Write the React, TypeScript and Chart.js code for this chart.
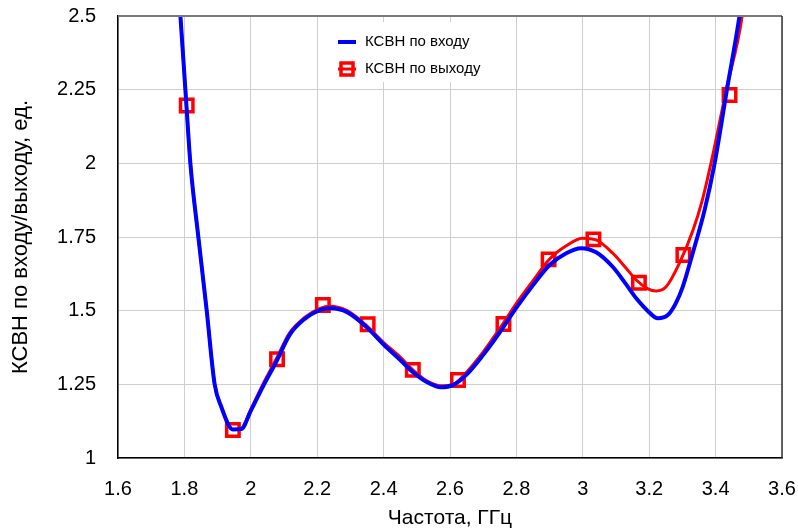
import React, { useEffect, useRef } from "react";
import { Chart, registerables } from "chart.js";

Chart.register(...registerables);

// ---- data ----
const inputFreq = [
  1.775, 1.788, 1.805, 1.818, 1.842, 1.867, 1.891, 1.911, 1.946, 1.971, 2.0, 2.04, 2.077, 2.117,
  2.16, 2.207, 2.24, 2.29, 2.348, 2.4, 2.448, 2.487, 2.53, 2.573, 2.61, 2.649, 2.7, 2.749, 2.8,
  2.849, 2.9, 2.95, 2.995, 3.04, 3.09, 3.13, 3.161, 3.195, 3.226, 3.256, 3.28, 3.301, 3.331,
  3.367, 3.397, 3.434, 3.472, 3.49,
];
const inputVswr = [
  2.7, 2.5, 2.215, 2.0, 1.75, 1.502, 1.251, 1.174, 1.097, 1.098, 1.16, 1.25, 1.327, 1.418,
  1.47, 1.502, 1.508, 1.495, 1.445, 1.385, 1.335, 1.293, 1.258, 1.24, 1.248, 1.282, 1.35, 1.425,
  1.51, 1.585, 1.655, 1.695, 1.712, 1.698, 1.649, 1.59, 1.542, 1.5, 1.474, 1.485, 1.525, 1.581,
  1.695, 1.842, 2.0, 2.249, 2.5, 2.65,
];

const outputFreq = [
  1.775, 1.788, 1.805, 1.818, 1.842, 1.867, 1.891, 1.911, 1.946, 1.971, 2.0, 2.04, 2.077, 2.117,
  2.16, 2.207, 2.24, 2.29, 2.348, 2.4, 2.448, 2.487, 2.53, 2.573, 2.61, 2.649, 2.7, 2.749, 2.8,
  2.849, 2.9, 2.95, 2.999, 3.04, 3.09, 3.13, 3.161, 3.195, 3.221, 3.251, 3.291, 3.331, 3.36,
  3.39, 3.432, 3.48, 3.495,
];
const outputVswr = [
  2.7, 2.5, 2.215, 2.0, 1.75, 1.502, 1.251, 1.174, 1.097, 1.1, 1.165, 1.258, 1.337, 1.425,
  1.475, 1.507, 1.515, 1.5, 1.45, 1.392, 1.345, 1.3, 1.262, 1.245, 1.25, 1.29, 1.36, 1.438,
  1.525, 1.6, 1.675, 1.72, 1.746, 1.74, 1.695, 1.645, 1.604, 1.575, 1.567, 1.581, 1.661, 1.77,
  1.875, 2.02, 2.249, 2.5, 2.65,
];

const markerFreq = [1.807, 1.946, 2.079, 2.217, 2.352, 2.488, 2.624, 2.761, 2.897, 3.032, 3.169, 3.303, 3.442];
const markerVswr = [2.196, 1.095, 1.335, 1.519, 1.454, 1.299, 1.265, 1.455, 1.674, 1.742, 1.595, 1.689, 2.232];

const xTickValues = [1.6, 1.8, 2.0, 2.2, 2.4, 2.6, 2.8, 3.0, 3.2, 3.4, 3.6];
const xTickLabels = ["1.6", "1.8", "2", "2.2", "2.4", "2.6", "2.8", "3", "3.2", "3.4", "3.6"];
const yTickValues = [1, 1.25, 1.5, 1.75, 2, 2.25, 2.5];
const yTickLabels = ["1", "1.25", "1.5", "1.75", "2", "2.25", "2.5"];

const seriesLabels = ["КСВН по входу", "КСВН по выходу"];
const xTitle = "Частота, ГГц";
const yTitle = "КСВН по входу/выходу, ед.";

const BLUE = "#0000ff";
const RED = "#ff0000";
const FONT = "'Liberation Sans', Arial, sans-serif";

const zip = (xs: number[], ys: number[]) => xs.map((x, i) => ({ x, y: ys[i] }));

const framePlugin = {
  id: "frameAndLegend",
  afterDraw(chart: any) {
    const { ctx, chartArea } = chart;
    const { left, right, top, bottom } = chartArea;
    ctx.save();
    // top border
    ctx.strokeStyle = "#7a7a7a";
    ctx.lineWidth = 2;
    ctx.beginPath();
    ctx.moveTo(left, top);
    ctx.lineTo(right, top);
    ctx.stroke();
    // right border
    ctx.strokeStyle = "#333333";
    ctx.lineWidth = 1.5;
    ctx.beginPath();
    ctx.moveTo(right, top);
    ctx.lineTo(right, bottom);
    ctx.stroke();

    // legend box
    const lx = left + 210;
    const ly = top + 6;
    ctx.fillStyle = "#ffffff";
    ctx.fillRect(lx, ly, 162, 60);

    const sx = lx + 10;
    const row1 = ly + 20;
    const row2 = ly + 47;
    // blue line sample
    ctx.strokeStyle = BLUE;
    ctx.lineWidth = 4;
    ctx.beginPath();
    ctx.moveTo(sx, row1);
    ctx.lineTo(sx + 18, row1);
    ctx.stroke();
    // red sample: line + square marker
    ctx.strokeStyle = RED;
    ctx.lineWidth = 3;
    ctx.beginPath();
    ctx.moveTo(sx, row2);
    ctx.lineTo(sx + 18, row2);
    ctx.stroke();
    ctx.lineWidth = 3.5;
    ctx.strokeRect(sx + 3, row2 - 6, 12, 12);

    ctx.fillStyle = "#000000";
    ctx.font = `15px ${FONT}`;
    ctx.textBaseline = "middle";
    ctx.textAlign = "left";
    ctx.fillText(seriesLabels[0], sx + 27, row1);
    ctx.fillText(seriesLabels[1], sx + 27, row2);
    ctx.restore();
  },
};

export default function App() {
  const ref = useRef<HTMLCanvasElement | null>(null);

  useEffect(() => {
    const canvas = ref.current;
    if (!canvas) return;
    const chart = new Chart(canvas, {
      type: "line",
      data: {
        datasets: [
          {
            label: seriesLabels[0],
            data: zip(inputFreq, inputVswr),
            borderColor: BLUE,
            backgroundColor: BLUE,
            borderWidth: 4,
            pointRadius: 0,
            cubicInterpolationMode: "monotone",
            fill: false,
          },
          {
            label: seriesLabels[1],
            data: zip(outputFreq, outputVswr),
            borderColor: RED,
            backgroundColor: RED,
            borderWidth: 3,
            pointRadius: 0,
            cubicInterpolationMode: "monotone",
            fill: false,
          },
          {
            label: seriesLabels[1] + " (маркеры)",
            data: zip(markerFreq, markerVswr),
            showLine: false,
            borderColor: RED,
            backgroundColor: "#ffffff",
            pointStyle: "rect",
            pointRadius: 8.8,
            pointBorderWidth: 3.5,
            pointBackgroundColor: "#ffffff",
            pointBorderColor: RED,
          },
        ],
      },
      options: {
        animation: false,
        responsive: false,
        maintainAspectRatio: false,
        events: [],
        layout: { padding: { left: 0, right: 16, top: 16, bottom: 0 } },
        plugins: {
          legend: { display: false },
          tooltip: { enabled: false },
          title: { display: false },
        },
        scales: {
          x: {
            type: "linear",
            min: 1.6,
            max: 3.6,
            afterBuildTicks: (s: any) => {
              s.ticks = xTickValues.map((v) => ({ value: v }));
            },
            afterFit: (s: any) => {
              s.height = 74;
              s.paddingLeft = 0;
              s.paddingRight = 0;
              s.paddingTop = 0;
              s.paddingBottom = 0;
            },
            ticks: {
              callback: (_v: any, i: number) => xTickLabels[i],
              color: "#000000",
              font: { family: FONT, size: 20 },
              padding: 19,
              maxRotation: 0,
            },
            grid: { color: "#cfcfcf", lineWidth: 1, drawTicks: false },
            border: { color: "#000000", width: 1.5 },
            title: {
              display: true,
              text: xTitle,
              color: "#000000",
              font: { family: FONT, size: 21 },
              padding: { top: 0, bottom: 1 },
            },
          },
          y: {
            type: "linear",
            min: 1,
            max: 2.5,
            afterBuildTicks: (s: any) => {
              s.ticks = yTickValues.map((v) => ({ value: v }));
            },
            afterFit: (s: any) => {
              s.width = 118;
              s.paddingLeft = 0;
              s.paddingRight = 0;
              s.paddingTop = 0;
              s.paddingBottom = 0;
            },
            ticks: {
              callback: (_v: any, i: number) => yTickLabels[i],
              color: "#000000",
              font: { family: FONT, size: 20 },
              padding: 22,
            },
            grid: { color: "#cfcfcf", lineWidth: 1, drawTicks: false },
            border: { color: "#000000", width: 1.5 },
            title: {
              display: true,
              text: yTitle,
              color: "#000000",
              font: { family: FONT, size: 22 },
              padding: { top: 8, bottom: 0 },
            },
          },
        },
      },
      plugins: [framePlugin],
    } as any);
    return () => chart.destroy();
  }, []);

  return (
    <div style={{ position: "absolute", left: 0, top: 0, width: 798, height: 532, background: "#ffffff" }}>
      <canvas ref={ref} width={798} height={532} style={{ display: "block", width: 798, height: 532 }} />
    </div>
  );
}
